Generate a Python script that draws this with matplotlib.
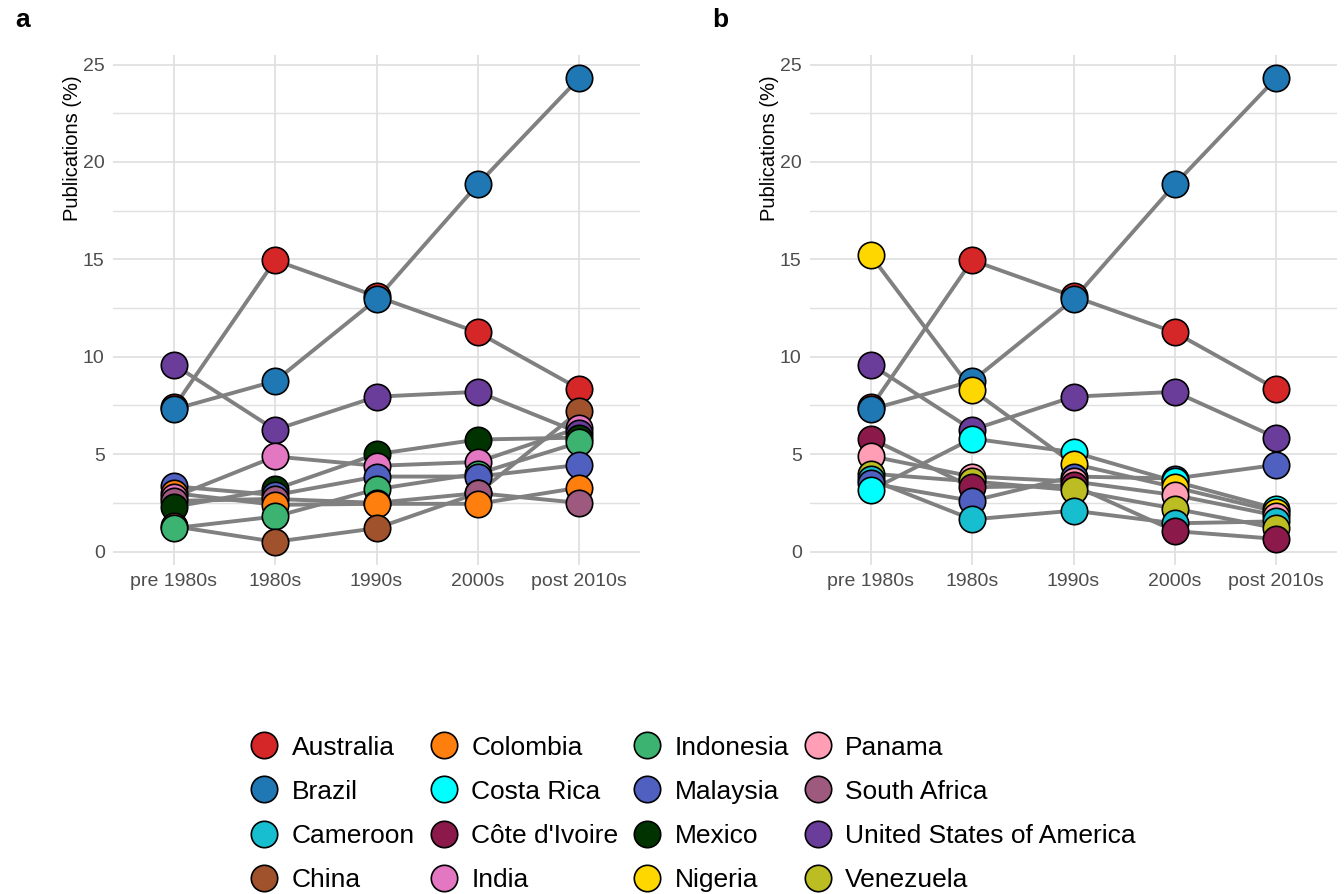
import matplotlib
matplotlib.use('Agg')
import matplotlib.pyplot as plt
from matplotlib.lines import Line2D

plt.rcParams['font.family'] = ['Liberation Sans', 'DejaVu Sans']

DECADES = ['pre 1980s', '1980s', '1990s', '2000s', 'post 2010s']

COUNTRIES = ['Australia', 'Brazil', 'Cameroon', 'China', 'Colombia', 'Costa Rica',
             "Côte d'Ivoire", 'India', 'Indonesia', 'Malaysia', 'Mexico', 'Nigeria',
             'Panama', 'South Africa', 'United States of America', 'Venezuela']

COLORS = ['#d62728', '#1f77b4', '#17becf', '#a0522d', '#ff7f0e', '#00ffff',
          '#8b1a4b', '#e377c2', '#3cb371', '#5060c0', '#003300', '#ffd700',
          '#ff9eb5', '#9e5a7e', '#6a3d9a', '#bcbd22']

# share of publications (%) per decade
PANEL_A = {
    'Australia':                [7.4, 14.95, 13.1, 11.25, 8.35],
    'Brazil':                   [7.3, 8.75, 12.95, 18.85, 24.3],
    'China':                    [1.3, 0.5, 1.2, 3.0, 7.2],
    'Colombia':                 [3.0, 2.4, 2.45, 2.45, 3.28],
    'India':                    [2.8, 4.88, 4.4, 4.6, 6.35],
    'Indonesia':                [1.2, 1.8, 3.2, 4.0, 5.6],
    'Malaysia':                 [3.35, 2.9, 3.85, 3.85, 4.45],
    'Mexico':                   [2.3, 3.2, 5.0, 5.75, 5.85],
    'South Africa':             [2.6, 2.7, 2.5, 3.0, 2.5],
    'United States of America': [9.6, 6.25, 7.95, 8.2, 6.1],
}

PANEL_B = {
    'Australia':                [7.4, 14.95, 13.1, 11.25, 8.35],
    'Brazil':                   [7.3, 8.75, 12.95, 18.85, 24.3],
    'Cameroon':                 [3.7, 1.65, 2.1, 1.45, 1.55],
    'Costa Rica':               [3.15, 5.8, 5.1, 3.6, 2.2],
    "Côte d'Ivoire":            [5.8, 3.3, 3.4, 1.05, 0.65],
    'Malaysia':                 [3.5, 2.6, 3.85, 3.75, 4.45],
    'Nigeria':                  [15.2, 8.3, 4.5, 3.3, 2.05],
    'Panama':                   [4.9, 3.85, 3.6, 2.9, 1.85],
    'United States of America': [9.6, 6.25, 7.95, 8.2, 5.85],
    'Venezuela':                [4.0, 3.6, 3.15, 2.2, 1.2],
}

COLOR_OF = dict(zip(COUNTRIES, COLORS))
GRID = '#e0e0e0'
MARKER_SIZE = 19


def draw_panel(ax, data, letter):
    """ Line per country, markers on top (lower values drawn last) """
    xs = range(1, len(DECADES) + 1)
    for country, values in data.items():
        ax.plot(xs, values, color='#808080', linewidth=2.8, zorder=2,
                solid_capstyle='round')

    points = []
    for country, values in data.items():
        for x, v in zip(xs, values):
            points.append((v, x, COLOR_OF[country]))
    points.sort(key=lambda p: -p[0])
    for v, x, c in points:
        ax.plot(x, v, 'o', ms=MARKER_SIZE, mfc=c, mec='black', mew=1.2, zorder=3)

    ax.set_xlim(0.4, 5.6)
    ax.set_ylim(-0.69, 25.49)
    ax.set_xticks(list(xs))
    ax.set_xticklabels(DECADES)
    ax.set_yticks([0, 5, 10, 15, 20, 25])
    ax.set_yticks([2.5, 7.5, 12.5, 17.5, 22.5], minor=True)
    ax.grid(True, which='major', color=GRID, linewidth=1.3, zorder=0)
    ax.grid(True, which='minor', axis='y', color=GRID, linewidth=1.0, zorder=0)
    ax.set_axisbelow(True)
    for side in ax.spines.values():
        side.set_visible(False)
    ax.tick_params(axis='both', which='both', length=0, labelsize=14,
                   labelcolor='#4d4d4d', pad=6)
    # y title sits at the top of the axis
    ax.set_ylabel('Publications (%)', fontsize=14.5, loc='top')
    ax.yaxis.set_label_coords(-0.059, 0.961)
    ax.text(-0.185, 1.068, letter, transform=ax.transAxes, fontsize=19,
            fontweight='bold', ha='left', va='center')


fig = plt.figure(figsize=(13.44, 8.94), dpi=100, facecolor='w')
ax_a = fig.add_axes([113 / 1344, 1 - 565 / 894, 527 / 1344, 510 / 894])
ax_b = fig.add_axes([810 / 1344, 1 - 565 / 894, 527 / 1344, 510 / 894])

draw_panel(ax_a, PANEL_A, 'a')
draw_panel(ax_b, PANEL_B, 'b')

handles = [Line2D([], [], linestyle='none', marker='o', ms=MARKER_SIZE,
                  mfc=c, mec='black', mew=1.2) for c in COLORS]
fig.legend(handles, COUNTRIES, ncol=4, loc='center',
           bbox_to_anchor=(0.516, 0.0898), frameon=False, fontsize=19,
           handlelength=1.0, handletextpad=0.55, columnspacing=0.58,
           labelspacing=0.76, borderpad=0)

plt.savefig('out.png', dpi=100, facecolor='w')
plt.close()
